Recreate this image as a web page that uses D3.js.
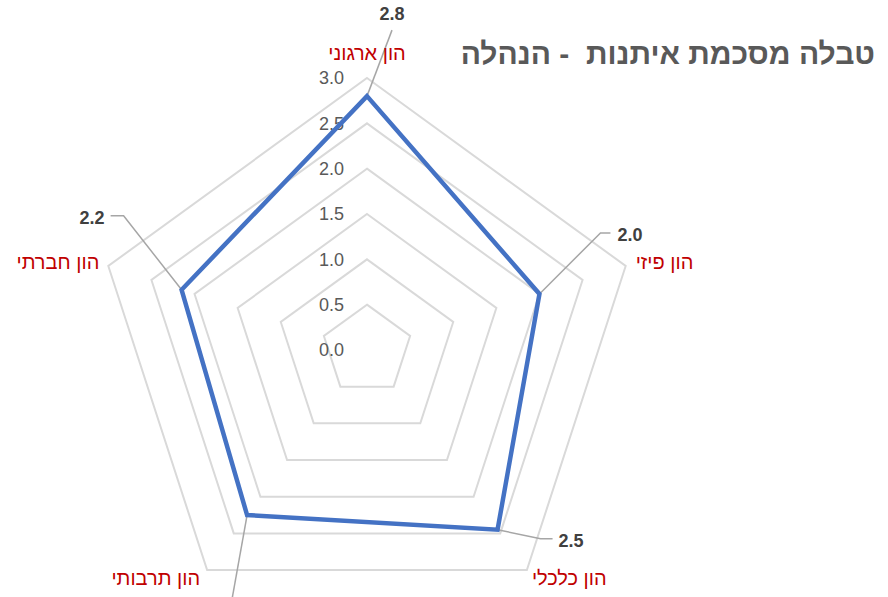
<!DOCTYPE html>
<html><head><meta charset="utf-8">
<script src="https://cdn.jsdelivr.net/npm/d3@7"></script>
<style>
html,body{margin:0;padding:0;background:#fff;}
svg{display:block;font-family:"Liberation Sans",Arial,sans-serif;}
</style></head>
<body>
<svg id="c" width="888" height="597"></svg>
<script>
const title = "טבלה מסכמת איתנות  - הנהלה";
const categories = ["הון ארגוני", "הון פיזי", "הון כלכלי", "הון תרבותי", "הון חברתי"];
const values = [2.8, 2.0, 2.45, 2.25, 2.15];
const valueLabels = ["2.8", "2.0", "2.5", null, "2.2"];
const ringTicks = [0.0, 0.5, 1.0, 1.5, 2.0, 2.5, 3.0];

const W = 888, H = 597;
const cx = 367, cy = 350;
const svg = d3.select("#c");

const r = d3.scaleLinear().domain([0, 3]).range([0, 272]);
const ang = d3.scaleLinear().domain([0, categories.length]).range([0, 2 * Math.PI]);
const pt = (i, v) => {
  const a = ang(i);
  return [cx + r(v) * Math.sin(a), cy - r(v) * Math.cos(a)];
};

// rings
const ringLine = d3.line().curve(d3.curveLinearClosed);
svg.append("g").selectAll("path").data(ringTicks.filter(t => t > 0)).join("path")
  .attr("d", t => ringLine(categories.map((c, i) => pt(i, t))))
  .attr("fill", "none").attr("stroke", "#D9D9D9").attr("stroke-width", 2);

// ring tick labels
svg.append("g").selectAll("text").data(ringTicks).join("text")
  .attr("x", cx - 23).attr("y", t => cy - r(t))
  .attr("dy", "0.35em").attr("text-anchor", "end")
  .attr("font-size", 18).attr("fill", "#595959")
  .text(t => d3.format(".1f")(t));

// data leader lines + labels (layout offsets only)
const lblLayout = [
  {lead: [[25, -66]], tx: 25, ty: -82, anchor: "middle"},
  {lead: [[61, -61], [71, -61]], tx: 78, ty: -59, anchor: "start"},
  {lead: [[43, 9], [55, 9]], tx: 61, ty: 11, anchor: "start"},
  {lead: [[-17, 95]], tx: -20, ty: 120, anchor: "middle"},
  {lead: [[-58, -74], [-71, -74]], tx: -77, ty: -72, anchor: "end"}
];
const g2 = svg.append("g");
categories.forEach((c, i) => {
  const p = pt(i, values[i]);
  const L = lblLayout[i];
  const pts = [p].concat(L.lead.map(o => [p[0] + o[0], p[1] + o[1]]));
  g2.append("path").attr("d", d3.line()(pts))
    .attr("fill", "none").attr("stroke", "#A6A6A6").attr("stroke-width", 1.5);
  if (valueLabels[i]) {
    g2.append("text").attr("x", p[0] + L.tx).attr("y", p[1] + L.ty)
      .attr("dy", "0.35em").attr("text-anchor", L.anchor)
      .attr("font-size", 18).attr("font-weight", "bold").attr("fill", "#404040")
      .text(valueLabels[i]);
  }
});

// data polygon
svg.append("path")
  .attr("d", ringLine(values.map((v, i) => pt(i, v))))
  .attr("fill", "none").attr("stroke", "#4472C4").attr("stroke-width", 4.5)
  .attr("stroke-linejoin", "miter");

// category labels
const catLayout = [
  {dx: 0, dy: -25, anchor: "middle"},
  {dx: 10, dy: -4, anchor: "start"},
  {dx: 5, dy: 8, anchor: "start"},
  {dx: -7, dy: 8, anchor: "end"},
  {dx: -9, dy: -4, anchor: "end"}
];
svg.append("g").selectAll("text").data(categories).join("text")
  .attr("x", (c, i) => pt(i, 3)[0] + catLayout[i].dx)
  .attr("y", (c, i) => pt(i, 3)[1] + catLayout[i].dy)
  .attr("dy", "0.35em")
  .attr("text-anchor", (c, i) => catLayout[i].anchor)
  .attr("font-size", 20).attr("fill", "#C00000")
  .text(c => c);

// title
svg.append("text").attr("x", 875).attr("y", 53).attr("dy", "0.35em")
  .attr("text-anchor", "end")
  .style("white-space", "pre")
  .attr("font-size", 30).attr("font-weight", "bold").attr("fill", "#595959")
  .text(title);
</script>
</body></html>
